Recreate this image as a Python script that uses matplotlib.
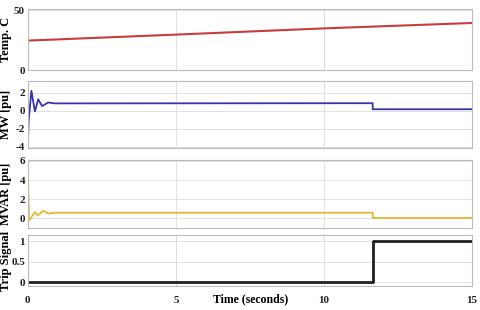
import matplotlib.pyplot as plt

plt.rcParams['font.family'] = ['Liberation Serif', 'DejaVu Serif']
plt.rcParams['font.weight'] = 'bold'

# Datos
t_temp = [0, 5, 10, 15]
temp = [24.6, 29.6, 34.8, 39.3]

t_mw = [0, 0.03, 0.12, 0.24, 0.35, 0.48, 0.69, 0.9, 11.65, 11.65, 15]
mw = [-3.6, -1.0, 2.2, -0.1, 1.26, 0.5, 0.9, 0.8, 0.82, 0.15, 0.15]

t_mvar = [0, 0.04, 0.1, 0.24, 0.33, 0.52, 0.69, 0.9, 11.65, 11.65, 15]
mvar = [5.4, -0.2, 0.0, 0.67, 0.3, 0.77, 0.5, 0.58, 0.58, 0.03, 0.03]

t_trip = [0, 11.65, 11.65, 15]
trip = [0, 0, 1, 1]

xticks = [0, 5, 10, 15]

paneles = [
    (t_temp, temp, '#c83c3c', 1.5, 'Temp. C', (0, 51), [0, 50], ['0', '50']),
    (t_mw, mw, '#3535b0', 1.3, 'MW [pu]', (-4.15, 3.3), [-4, -2, 0, 2], ['-4', '-2', '0', '2']),
    (t_mvar, mvar, '#e8b830', 1.3, 'MVAR [pu]', (-1.0, 6.1), [0, 2, 4, 6], ['0', '2', '4', '6']),
    (t_trip, trip, '#202020', 2.0, 'Trip Signal', (-0.1, 1.15), [0, 0.5, 1], ['0', '0.5', '1']),
]

posiciones = [(0.058, 0.774, 0.925, 0.197),
              (0.058, 0.523, 0.925, 0.216),
              (0.058, 0.265, 0.925, 0.219),
              (0.058, 0.077, 0.925, 0.165)]

fig = plt.figure(figsize=(4.8, 3.1), dpi=100)

for (t, y, color, lw, label, ylim, yt, ytl), pos in zip(paneles, posiciones):
    ax = fig.add_axes(pos)
    ax.plot(t, y, color=color, lw=lw)
    ax.set_xlim(0, 15)
    ax.set_ylim(*ylim)
    ax.set_yticks(yt)
    ax.set_yticklabels(ytl, fontsize=8, fontweight='bold')
    ax.set_xticks(xticks)
    ax.grid(True, color='#e2e2e2', lw=0.7)
    for s in ax.spines.values():
        s.set_color('#bbbbbb')
        s.set_linewidth(0.8)
    ax.tick_params(length=0, pad=2, colors='#222222')
    ax.set_ylabel(label, fontsize=9, fontweight='bold')
    ax.yaxis.set_label_coords(-0.036, 0.5)
    if label != 'Trip Signal':
        ax.set_xticklabels([])
    else:
        ax.set_xticklabels(['0', '5', '10', '15'], fontsize=8, fontweight='bold')
        ax.tick_params(axis='x', pad=7)
        ax.set_xlabel('Time (seconds)', fontsize=8.5, fontweight='bold')
        ax.xaxis.set_label_coords(0.501, -0.14)
        ax.axvline(5, color='#555555', lw=0.7, zorder=0)
    if label == 'Temp. C':
        ax.axvline(10, color='#555555', lw=0.7, zorder=0)

fig.savefig('out.png', dpi=100)
